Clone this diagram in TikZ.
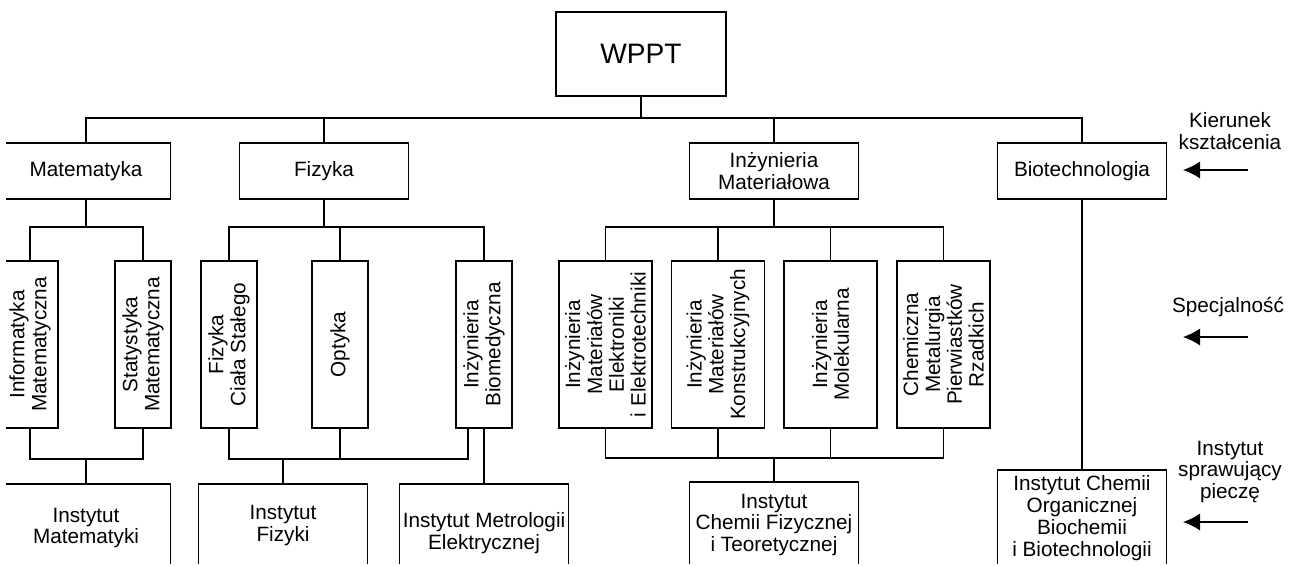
\documentclass[tikz,border=0pt]{standalone}
\usepackage{fontspec}
\setmainfont{Liberation Sans}
\usepackage{tikz}
\usetikzlibrary{arrows.meta,positioning,calc}

\begin{document}
\begin{tikzpicture}[
		x=0.02cm, y=-0.02cm,
		line width=1.1pt,
		font=\fontsize{11.8}{12.4}\selectfont,
		box/.style={
			draw, align=center, inner sep=0pt, minimum width=3.38cm, minimum height=1.12cm
		},
		vbox/.style={
			box, rotate=90, minimum width=3.34cm, minimum height=1.12cm
		},
		wbox/.style={
			vbox, minimum height=1.86cm
		},
		inst/.style={
			box, anchor=north, minimum height=1.76cm
		},
		hint/.style={
			align=center, inner sep=0pt
		},
		pointer/.style={
			-{Latex[length=3.4mm,width=3.4mm]}, line width=0.7pt
		},
		]
		\useasboundingbox (0,0) rectangle (1289,565);
		\clip (6,0) rectangle (1289,563);
		
		% Faculty
		\node [box, minimum width=3.4cm, minimum height=1.68cm, font=\fontsize{16}{16}\selectfont] (wppt) at (641,54) {WPPT};
		
		% Kierunki
		\node [box] (mat) at (86,171) {Matematyka};
		\node [box] (fiz) at (324,171) {Fizyka};
		\node [box] (im) at (774,171) {Inżynieria\\Materiałowa};
		\node [box] (bio) at (1082,171) {Biotechnologia};
		
		% Specjalnosci
		\node [vbox] (inf) at (30,344.5) {Informatyka\\Matematyczna};
		\node [vbox] (stat) at (143,344.5) {Statystyka\\Matematyczna};
		\node [vbox] (fcs) at (229,344.5) {Fizyka\\Ciała Stałego};
		\node [vbox] (opt) at (340,344.5) {Optyka};
		\node [vbox] (bmed) at (484,344.5) {Inżynieria\\Biomedyczna};
		\node [wbox] (imee) at (605.5,344.5) {Inżynieria\\Materiałów\\Elektroniki\\i Elektrotechniki};
		\node [wbox] (imk) at (718,344.5) {Inżynieria\\Materiałów\\Konstrukcyjnych};
		\node [wbox] (imol) at (830.5,344.5) {Inżynieria\\Molekularna};
		\node [wbox] (cmpr) at (943.5,344.5) {Chemiczna\\Metalurgia\\Pierwiastków\\Rzadkich};
		
		% Instytuty
		\node [inst] (imat) at (86,483) {Instytut\\Matematyki};
		\node [inst, minimum height=1.66cm] (ifiz) at (283,483) {Instytut\\Fizyki};
		\node [inst, minimum height=1.96cm] (imet) at (484,483) {Instytut Metrologii\\Elektrycznej};
		\node [inst, minimum height=1.72cm] (ichf) at (774,481) {Instytut\\Chemii Fizycznej\\i Teoretycznej};
		\node [inst, minimum height=1.92cm] (icho) at (1082,469) {Instytut Chemii\\Organicznej\\Biochemii\\i Biotechnologii};
		
		% top bar
		\coordinate (top) at (641,118);
		\draw (wppt) -- (top);
		\draw (mat) |- (top) -| (bio);
		\draw (top -| fiz) -- (fiz);
		\draw (top -| im) -- (im);
		
		% Matematyka
		\coordinate (mbar) at (86,227);
		\coordinate (mbar2) at (86,459);
		\draw (mat) -- (mbar);
		\draw (inf) |- (mbar) -| (stat);
		\draw (inf) |- (mbar2) -| (stat);
		\draw (mbar2) -- (imat);
		
		% Fizyka
		\coordinate (fbar) at (324,227);
		\coordinate (fbar2) at (283,459);
		\coordinate (fend) at (468,459);
		\draw (fiz) -- (fbar);
		\draw (fcs) |- (fbar) -| (bmed);
		\draw (fbar -| opt) -- (opt);
		\draw (fcs) |- (fbar2) -| (fend) -- ++(0,-31);
		\draw (fbar2 -| opt) -- (opt);
		\draw (fbar2) -- (ifiz);
		\draw (bmed) -- (imet);
		
		% Inzynieria Materialowa
		\coordinate (ibar) at (774,227);
		\coordinate (ibar2) at (774,458);
		\draw (im) -- (ibar);
		\draw (imee) |- (ibar) -| (cmpr);
		\draw (ibar -| imk) -- (imk);
		\draw (ibar -| imol) -- (imol);
		\draw (imee) |- (ibar2) -| (cmpr);
		\draw (ibar2 -| imk) -- (imk);
		\draw (ibar2 -| imol) -- (imol);
		\draw (ibar2) -- (ichf);
		
		% Biotechnologia
		\draw (bio) -- (icho);
		
		% legend
		\node [hint] (kier) at (1230,131) {Kierunek\\kształcenia};
		\node [hint] (spec) at (1228,307) {Specjalność};
		\node [hint] (piecz) at (1230,472) {Instytut\\sprawujący\\pieczę};
		\coordinate (k1) at (1248,170);
		\coordinate (k2) at (1183,170);
		\coordinate (s1) at (1248,337);
		\coordinate (s2) at (1183,337);
		\coordinate (p1) at (1248,522);
		\coordinate (p2) at (1183,522);
		\draw [pointer] (k1) -- (k2);
		\draw [pointer] (s1) -- (s2);
		\draw [pointer] (p1) -- (p2);
		
	\end{tikzpicture}
\end{document}
